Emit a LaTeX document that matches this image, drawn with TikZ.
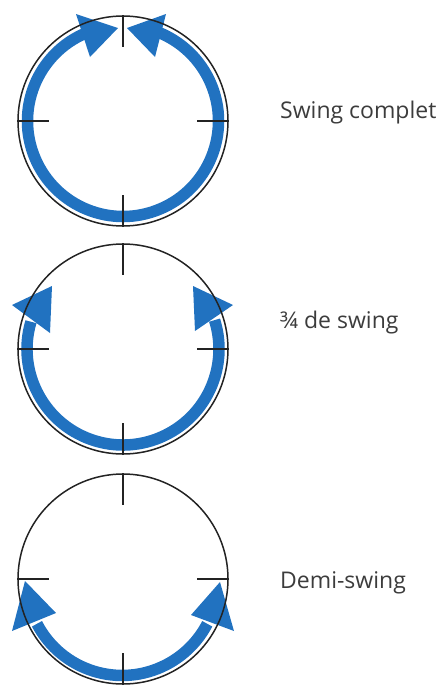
\documentclass[tikz,border=0pt]{standalone}
\usepackage{fontspec}
\setmainfont{Open Sans}
\definecolor{swingblue}{RGB}{33,114,192}
\definecolor{ink}{RGB}{35,35,35}
\definecolor{labelgray}{RGB}{60,60,60}
\begin{document}
\begin{tikzpicture}[x=1pt,y=-1pt,
  rim/.style={draw=ink, line width=1.5pt},
  tickline/.style={draw=ink, line width=1.4pt},
  swing/.style={draw=swingblue, line width=11.5pt},
  head/.style={fill=swingblue},
  lbl/.style={anchor=west, text=labelgray, font=\fontsize{23}{27}\selectfont, inner sep=0pt}]
\useasboundingbox (0,0) rectangle (447,686);
\coordinate (c1) at (123,121);
\coordinate (c2) at (123,349);
\coordinate (c3) at (123,579);

% Swing complet
\begin{scope}[shift={(c1)}]
  \draw[swing] (247:95.5) arc[start angle=247, end angle=-68.5, radius=95.5];
  \fill[head] (-47,-107) -- (-5,-93) -- (-33,-64) -- cycle;
  \fill[head] (43,-107) -- (4,-93) -- (32,-64) -- cycle;
  \draw[rim] (0,0) circle[radius=105];
  \draw[tickline] (0,-106) -- (0,-74);
  \draw[tickline] (0,106) -- (0,74);
  \draw[tickline] (-106,0) -- (-74,0);
  \draw[tickline] (106,0) -- (74,0);
\end{scope}

% 3/4 de swing
\begin{scope}[shift={(c2)}]
  \draw[swing] (196.5:96) arc[start angle=196.5, end angle=-17.5, radius=96];
  \fill[head] (-71,-63) -- (-111,-44) -- (-73,-16) -- cycle;
  \fill[head] (70,-63) -- (110,-44) -- (72,-18) -- cycle;
  \draw[rim] (0,0) circle[radius=105];
  \draw[tickline] (0,-106) -- (0,-74);
  \draw[tickline] (0,106) -- (0,74);
  \draw[tickline] (-106,0) -- (-74,0);
  \draw[tickline] (106,0) -- (74,0);
\end{scope}

% Demi-swing
\begin{scope}[shift={(c3)}]
  \draw[swing] (152.5:97) arc[start angle=152.5, end angle=27.5, radius=96];
  \fill[head] (-98,2) -- (-67,34) -- (-111,52) -- cycle;
  \fill[head] (97,3) -- (111,52) -- (68,36) -- cycle;
  \draw[rim] (0,0) circle[radius=105];
  \draw[tickline] (0,-106) -- (0,-74);
  \draw[tickline] (0,106) -- (0,74);
  \draw[tickline] (-106,0) -- (-74,0);
  \draw[tickline] (106,0) -- (74,0);
\end{scope}

\node[lbl] (l1) at (280,113) {Swing complet};
\node[lbl] (l2) at (280,323) {¾ de swing};
\node[lbl] (l3) at (280,583) {Demi-swing};
\end{tikzpicture}
\end{document}
